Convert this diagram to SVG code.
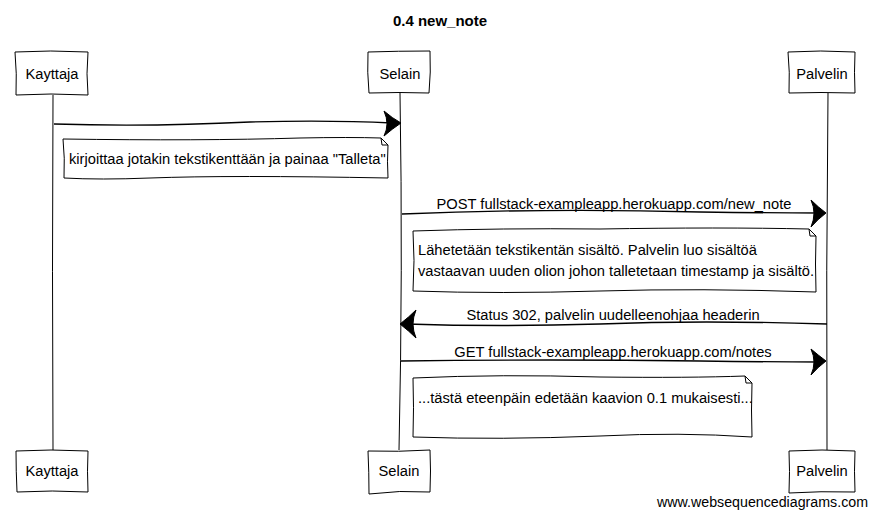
<svg xmlns="http://www.w3.org/2000/svg" width="877" height="517" viewBox="0 0 877 517">
<style>
text{font-family:"Liberation Sans",Arial,sans-serif;font-size:14.7px;fill:#000}
.t{font-weight:bold;font-size:15px}
.box{fill:#fff;stroke:#000;stroke-width:1}
.ln{fill:none;stroke:#000;stroke-width:1}
.msg{fill:none;stroke:#000;stroke-width:1.3}
.ah{fill:#000;stroke:#000;stroke-width:1}
</style>
<rect width="877" height="517" fill="#fff"/>
<text class="t" x="440" y="26" text-anchor="middle">0.4 new_note</text>
<g id="lifelines">
<path class="ln" d="M53,95 Q52,270 53,450"/>
<path class="ln" d="M400,93 Q403,270 399,450"/>
<path class="ln" d="M828,93 Q826,270 827,450"/>
</g>
<g id="p-kayttaja-top">
<path class="box" d="M15,52 Q50,50 88,52 Q86,74 88,95 Q50,93 16,95 Q17,74 15,52 Z"/>
<text x="52" y="79" text-anchor="middle">Kayttaja</text>
</g>
<g id="p-selain-top">
<path class="box" d="M368,52 Q398,51 430,51 Q431,72 429,93 Q399,92 369,93 Q367,72 368,52 Z"/>
<text x="400" y="79" text-anchor="middle">Selain</text>
</g>
<g id="p-palvelin-top">
<path class="box" d="M788,52 Q820,50 855,52 Q854,72 855,93 Q820,92 789,93 Q790,72 788,52 Z"/>
<text x="822" y="79" text-anchor="middle">Palvelin</text>
</g>
<g id="p-kayttaja-bottom">
<path class="box" d="M16,451 Q50,449 88,451 Q87,471 88,492 Q52,490 17,492 Q16,471 16,451 Z"/>
<text x="52" y="476" text-anchor="middle">Kayttaja</text>
</g>
<g id="p-selain-bottom">
<path class="box" d="M368,451 Q398,452 430,450 Q431,471 430,492 Q400,490 369,494 Q369,472 368,451 Z"/>
<text x="399" y="476" text-anchor="middle">Selain</text>
</g>
<g id="p-palvelin-bottom">
<path class="box" d="M789,451 Q822,449 855,451 Q854,471 855,492 Q820,491 789,493 Q790,471 789,451 Z"/>
<text x="822" y="476" text-anchor="middle">Palvelin</text>
</g>
<g id="connectors">
<path class="msg" d="M54,124 Q150,127 250,122 Q330,120 392,123"/>
<path class="ah" d="M384,111 Q392,118 401,123 Q392,129 384,136 Q390,124 384,111 Z"/>
<path class="msg" d="M402,214 Q550,208 700,212 Q770,213 820,213"/>
<path class="ah" d="M811,200 Q818,207 826,213 Q818,219 811,227 Q817,213 811,200 Z"/>
<text x="614" y="209" text-anchor="middle">POST fullstack-exampleapp.herokuapp.com/new_note</text>
<path class="msg" d="M827,324 Q700,320 600,324 Q500,327 406,324"/>
<path class="ah" d="M416,310 Q409,317 400,324 Q409,331 416,338 Q410,324 416,310 Z"/>
<text x="613" y="320" text-anchor="middle">Status 302, palvelin uudelleenohjaa headerin</text>
<path class="msg" d="M401,361 Q550,359 700,361 Q770,362 820,362"/>
<path class="ah" d="M811,349 Q818,355 826,361 Q818,367 811,375 Q817,362 811,349 Z"/>
<text x="613" y="357" text-anchor="middle">GET fullstack-exampleapp.herokuapp.com/notes</text>
</g>
<g id="note1">
<path class="box" d="M63,139 Q200,141 300,138 Q350,137 381,138 L388,145 Q387,162 388,178 Q230,175 150,178 Q100,180 64,178 Q65,158 63,139 Z"/>
<path class="ln" d="M381,138 L382,145 L388,145"/>
<text x="69" y="164">kirjoittaa jotakin tekstikenttään ja painaa "Talleta"</text>
</g>
<g id="note2">
<path class="box" d="M413,231 Q500,228 600,229 Q720,227 809,229 L816,236 Q815,264 816,292 Q700,288 600,291 Q500,294 413,291 Q415,260 413,231 Z"/>
<path class="ln" d="M809,229 L810,236 L816,236"/>
<text x="418" y="255">Lähetetään tekstikentän sisältö. Palvelin luo sisältöä</text>
<text x="418" y="276">vastaavan uuden olion johon talletetaan timestamp ja sisältö.</text>
</g>
<g id="note3">
<path class="box" d="M413,378 Q500,374 600,377 Q690,378 745,376 L752,383 Q751,410 752,437 Q680,432 600,436 Q500,440 413,437 Q414,408 413,378 Z"/>
<path class="ln" d="M745,376 L746,383 L752,383"/>
<text x="418" y="403">...tästä eteenpäin edetään kaavion 0.1 mukaisesti...</text>
</g>
<text x="868" y="507" text-anchor="end" style="font-size:14px" textLength="211" lengthAdjust="spacingAndGlyphs">www.websequencediagrams.com</text>
</svg>
